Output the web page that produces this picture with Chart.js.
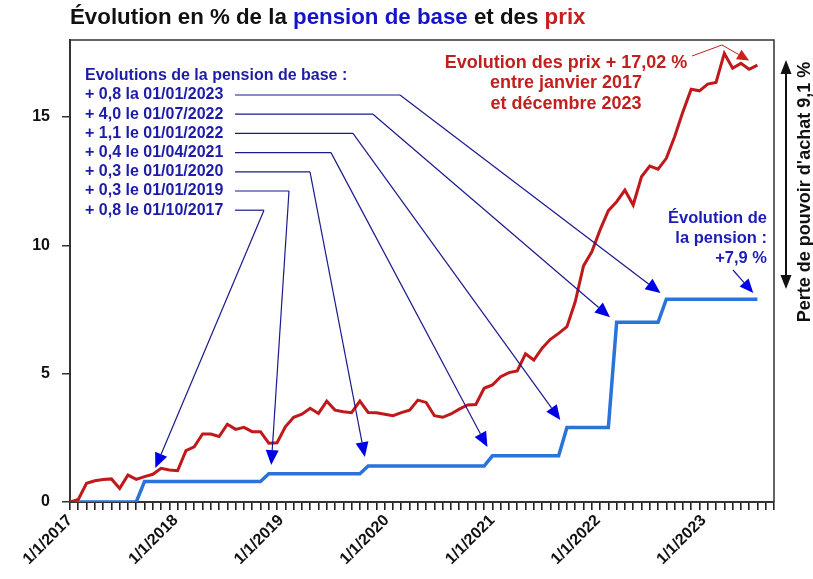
<!DOCTYPE html>
<html>
<head>
<meta charset="utf-8">
<script src="https://cdn.jsdelivr.net/npm/chart.js@4.4.1/dist/chart.umd.min.js"></script>
<style>
  html, body { margin: 0; padding: 0; background: #fff; }
  #wrap { position: relative; width: 813px; height: 579px; }
  #myChart { position: absolute; left: 0; top: 0; }
  #title {
    position: absolute; left: 70px; top: 4px; white-space: nowrap;
    font: bold 22.3px "Liberation Sans", Arial, sans-serif; color: #111;
  }
</style>
</head>
<body>
<div id="wrap">
  <canvas id="myChart" width="813" height="579"></canvas>
  <div id="title">Évolution en % de la <span style="color:#1414c8">pension de base</span> et des <span style="color:#c4201e">prix</span></div>
</div>
<script>
// monthly values, Jan 2017 -> Dec 2023 (84 months)
const prices = [
  0, 0.1, 0.73, 0.83, 0.88, 0.9, 0.53, 1.05, 0.88, 0.99, 1.08, 1.31,
  1.25, 1.22, 2.0, 2.15, 2.65, 2.65, 2.55, 3.03, 2.83, 2.91, 2.74, 2.74,
  2.29, 2.31, 2.93, 3.3, 3.42, 3.65, 3.45, 3.93, 3.58, 3.52, 3.48, 3.93,
  3.49, 3.48, 3.42, 3.36, 3.48, 3.58, 3.97, 3.88, 3.36, 3.3, 3.43, 3.62,
  3.78, 3.8, 4.43, 4.56, 4.88, 5.04, 5.11, 5.77, 5.53, 5.99, 6.34, 6.57,
  6.83, 7.8, 9.2, 9.75, 10.6, 11.35, 11.7, 12.15, 11.57, 12.67, 13.09, 12.97,
  13.39, 14.23, 15.2, 16.08, 16.02, 16.28, 16.35, 17.48, 16.9, 17.09, 16.86, 17.02
];
const pension = [
  0, 0, 0, 0, 0, 0, 0, 0, 0, 0.8, 0.8, 0.8,
  0.8, 0.8, 0.8, 0.8, 0.8, 0.8, 0.8, 0.8, 0.8, 0.8, 0.8, 0.8,
  1.1, 1.1, 1.1, 1.1, 1.1, 1.1, 1.1, 1.1, 1.1, 1.1, 1.1, 1.1,
  1.4, 1.4, 1.4, 1.4, 1.4, 1.4, 1.4, 1.4, 1.4, 1.4, 1.4, 1.4,
  1.4, 1.4, 1.4, 1.8, 1.8, 1.8, 1.8, 1.8, 1.8, 1.8, 1.8, 1.8,
  2.9, 2.9, 2.9, 2.9, 2.9, 2.9, 7.0, 7.0, 7.0, 7.0, 7.0, 7.0,
  7.9, 7.9, 7.9, 7.9, 7.9, 7.9, 7.9, 7.9, 7.9, 7.9, 7.9, 7.9
];
const yearLabels = ['1/1/2017', '1/1/2018', '1/1/2019', '1/1/2020', '1/1/2021', '1/1/2022', '1/1/2023'];
const yTicks = [0, 5, 10, 15];

const pensionNotesTitle = 'Evolutions de la pension de base :';
const pensionNotes = ['+ 0,8 la 01/01/2023', '+ 4,0 le 01/07/2022', '+ 1,1 le 01/01/2022',
  '+ 0,4 le 01/04/2021', '+ 0,3 le 01/01/2020', '+ 0,3 le 01/01/2019', '+ 0,8 le 01/10/2017'];
const priceNote = ['Evolution des prix + 17,02 %', 'entre janvier 2017', 'et décembre 2023'];
const pensionTotalNote = ['Évolution de', 'la pension :', '+7,9 %'];
const lossNote = "Perte de pouvoir d'achat 9,1 %";

// where the year labels sit on the month axis (the original spaces them a bit wider than 12 months)
const yearLabelStep = 12.75;
// elbow x (px) and arrow tip (month, %) for each pension note
const noteElbows = [400, 373, 353, 331, 310, 289, 264];
const noteTips = [[71.3, 8.14], [65.2, 7.2], [59.2, 3.19], [50.4, 2.14], [35.6, 1.75], [24.3, 1.44], [10.3, 1.32]];

const FONT = '"Liberation Sans", Arial, sans-serif';

function arrow(ctx, x1, y1, x2, y2, lineColor, headColor, len, half, lw) {
  const a = Math.atan2(y2 - y1, x2 - x1);
  const bx = x2 - len * Math.cos(a), by = y2 - len * Math.sin(a);
  ctx.strokeStyle = lineColor;
  ctx.lineWidth = lw;
  ctx.beginPath();
  ctx.moveTo(x1, y1);
  ctx.lineTo(bx, by);
  ctx.stroke();
  ctx.fillStyle = headColor;
  ctx.beginPath();
  ctx.moveTo(x2, y2);
  ctx.lineTo(bx + half * Math.sin(a), by - half * Math.cos(a));
  ctx.lineTo(bx - half * Math.sin(a), by + half * Math.cos(a));
  ctx.closePath();
  ctx.fill();
}

const notesPlugin = {
  id: 'notes',
  afterDatasetsDraw(chart) {
    const ctx = chart.ctx;
    const xs = chart.scales.x, ys = chart.scales.y;
    const area = chart.chartArea;
    ctx.save();

    // frame top / right
    ctx.strokeStyle = '#333';
    ctx.lineWidth = 1.5;
    ctx.beginPath();
    ctx.moveTo(area.left, area.top);
    ctx.lineTo(area.right, area.top);
    ctx.lineTo(area.right, area.bottom);
    ctx.stroke();

    // pension notes
    ctx.font = 'bold 16px ' + FONT;
    ctx.textBaseline = 'middle';
    ctx.textAlign = 'left';
    ctx.fillStyle = '#1c1ca8';
    ctx.fillText(pensionNotesTitle, 85, 76);
    pensionNotes.forEach((t, i) => {
      const y = 95 + i * 19.2;
      ctx.fillStyle = '#1c1ca8';
      ctx.fillText(t, 85, y);
      ctx.strokeStyle = '#1a1a8c';
      ctx.lineWidth = 1.2;
      ctx.beginPath();
      ctx.moveTo(235, y);
      ctx.lineTo(noteElbows[i], y);
      ctx.stroke();
      const tx = xs.getPixelForValue(noteTips[i][0]);
      const ty = ys.getPixelForValue(noteTips[i][1]);
      arrow(ctx, noteElbows[i], y, tx, ty, '#1a1a8c', '#0000e6', 15, 6.5, 1.2);
    });

    // price note
    ctx.font = 'bold 18px ' + FONT;
    ctx.textAlign = 'center';
    ctx.fillStyle = '#c0201e';
    priceNote.forEach((t, i) => ctx.fillText(t, 566, 63 + i * 20.5));
    ctx.strokeStyle = '#c0201e';
    ctx.lineWidth = 1;
    ctx.beginPath();
    ctx.moveTo(692, 56);
    ctx.lineTo(722, 45);
    ctx.stroke();
    arrow(ctx, 722, 45, xs.getPixelForValue(82), ys.getPixelForValue(17.2), '#c0201e', '#d0201e', 12, 5.5, 1);

    // pension total note
    ctx.font = 'bold 16.5px ' + FONT;
    ctx.textAlign = 'right';
    ctx.fillStyle = '#1c1cb8';
    pensionTotalNote.forEach((t, i) => ctx.fillText(t, 767, 218 + i * 20));
    arrow(ctx, 733, 270, xs.getPixelForValue(82.5), ys.getPixelForValue(8.14), '#1a1a8c', '#0000e6', 14, 6, 1.2);

    // purchasing power loss
    const vx = 786;
    arrow(ctx, vx, 175, vx, 60, '#111', '#111', 14, 5.5, 2);
    arrow(ctx, vx, 175, vx, 289, '#111', '#111', 14, 5.5, 2);
    ctx.translate(805, 192);
    ctx.rotate(-Math.PI / 2);
    ctx.font = 'bold 18px ' + FONT;
    ctx.textAlign = 'center';
    ctx.fillStyle = '#111';
    ctx.fillText(lossNote, 0, 0);
    ctx.restore();
  }
};

const ctx = document.getElementById('myChart').getContext('2d');
const chart = new Chart(ctx, {
  type: 'line',
  data: {
    datasets: [
      {
        label: 'Prix',
        data: prices.map((v, i) => ({ x: i, y: v })),
        borderColor: '#c0191c',
        borderWidth: 3,
        pointRadius: 0,
        tension: 0
      },
      {
        label: 'Pension',
        data: pension.map((v, i) => ({ x: i, y: v })),
        borderColor: '#2a73d9',
        borderWidth: 3.5,
        pointRadius: 0,
        tension: 0
      }
    ]
  },
  options: {
    responsive: false,
    animation: false,
    devicePixelRatio: 1,
    layout: { padding: { top: 40, right: 39, left: 0, bottom: 0 } },
    plugins: {
      legend: { display: false },
      tooltip: { enabled: false },
      title: { display: false }
    },
    scales: {
      x: {
        type: 'linear',
        min: 0,
        max: 85,
        afterBuildTicks: s => { s.ticks = Array.from({ length: 86 }, (_, i) => ({ value: i })); },
        ticks: { display: false },
        grid: { drawOnChartArea: false, tickLength: 8, color: '#222', lineWidth: 1.6 },
        border: { color: '#333', width: 2 },
        afterFit: s => { s.height = 8; }
      },
      x2: {
        type: 'linear',
        position: 'bottom',
        min: 0,
        max: 85,
        afterBuildTicks: s => { s.ticks = yearLabels.map((_, k) => ({ value: k * yearLabelStep })); },
        ticks: {
          autoSkip: false,
          minRotation: 45,
          maxRotation: 45,
          padding: 1,
          color: '#111',
          font: { family: FONT, size: 16, weight: 'bold' },
          callback: (v, i) => yearLabels[i]
        },
        grid: { display: false, drawTicks: false },
        border: { display: false },
        afterFit: s => { s.height = 69; }
      },
      y: {
        min: 0,
        max: 18,
        afterBuildTicks: s => { s.ticks = yTicks.map(v => ({ value: v })); },
        ticks: { padding: 12, color: '#111', font: { family: FONT, size: 16, weight: 'bold' } },
        grid: { drawOnChartArea: false, tickLength: 8, color: '#333', lineWidth: 1.5 },
        border: { color: '#333', width: 2 },
        afterFit: s => { s.width = 70; }
      }
    }
  },
  plugins: [notesPlugin]
});
</script>
</body>
</html>
